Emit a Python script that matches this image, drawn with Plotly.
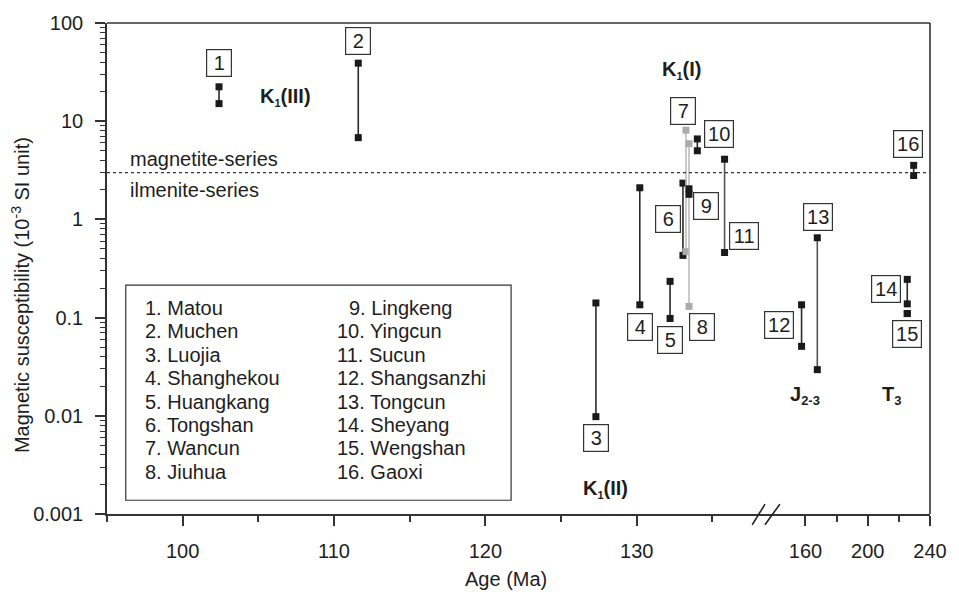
import numpy as np
import plotly.graph_objects as go

# ---------------- data ----------------
site_names = ["Matou", "Muchen", "Luojia", "Shanghekou", "Huangkang", "Tongshan", "Wancun", "Jiuhua",
              "Lingkeng", "Yingcun", "Sucun", "Shangsanzhi", "Tongcun", "Sheyang", "Wengshan", "Gaoxi"]
ages = [102.4, 111.6, 127.3, 130.2, 132.2, 133.05, 133.25, 133.45,
        133.45, 134.0, 135.8, 157.5, 167.6, 225.4, 225.4, 229.5]
sus_max = [22.4, 39.0, 0.141, 2.1, 0.234, 2.34, 8.1, 5.9,
           2.05, 6.6, 4.1, 0.135, 0.65, 0.245, 0.11, 3.55]
sus_min = [15.1, 6.8, 0.0098, 0.135, 0.098, 0.43, 0.47, 0.13,
           1.8, 5.0, 0.46, 0.051, 0.0295, 0.138, 0.11, 2.8]
series_boundary = 3.0  # magnetite / ilmenite series boundary

x1_ticks = [100, 110, 120, 130]
x1_minor = [95, 105, 115, 125, 135]
x2_ticks = [160, 200, 240]
x2_minor = [180, 220]
y_ticks = [100, 10, 1, 0.1, 0.01, 0.001]
y_ticktext = ["100", "10", "1", "0.1", "0.01", "0.001"]

# ---------------- styles / label placement ----------------
FONT = "Liberation Sans, Arial, Helvetica, sans-serif"
gray_sites = {7, 8}
light_line_sites = {11, 13}
label_y = [38.9, 66, 0.006, 0.081, 0.059, 1.0, 12.6, 0.081,
           1.38, 7.4, 0.676, 0.085, 1.05, 0.195, 0.068, 5.9]
label_dx = [0, 0, 0, 0, 0, -15, -3, 13, 17, 22, 19, -23, 1, -21, 0, -6]

BREAK = 0.7995  # domain split of the broken x axis
x1_range = [95, 138.47]
x2_range = [134.0, 240]

fig = go.Figure()

def axis_for(age):
    return "x2" if age > x1_range[1] else "x"

for i, (nm, a, hi, lo) in enumerate(zip(site_names, ages, sus_max, sus_min)):
    n = i + 1
    if n in gray_sites:
        mcol, lcol = "#ababab", "#bdbdbd"
    else:
        mcol = "#1a1a1a"
        lcol = "#555555" if n in light_line_sites else "#2a2a2a"
    fig.add_trace(go.Scatter(
        x=[a, a], y=[hi, lo], xaxis=axis_for(a), yaxis="y",
        mode="lines+markers", name=f"{n}. {nm}",
        line=dict(color=lcol, width=1.6),
        marker=dict(symbol="square", size=7, color=mcol),
        showlegend=False, hoverinfo="x+y+name"))

annotations = []
# boxed site numbers
for i, (a, ly, dx) in enumerate(zip(ages, label_y, label_dx)):
    n = i + 1
    annotations.append(dict(
        x=a, y=np.log10(ly), xref=axis_for(a), yref="y",
        text=str(n), showarrow=False, xshift=dx,
        font=dict(family=FONT, size=20, color="#1e1e1e"),
        bordercolor="#333", borderwidth=1.2, borderpad=1,
        bgcolor="rgba(255,255,255,0)",
        width=22 if n < 10 else 26, height=24))

def px2paper(px, py):
    return (px - 107) / 833.0, (514 - py) / 500.0

def txt(text, px, py, size=20, bold=False, xanchor="center", **kw):
    xp, yp = px2paper(px, py)
    if bold:
        text = f"<b>{text}</b>"
    d = dict(x=xp, y=yp, xref="paper", yref="paper", text=text, showarrow=False,
             xanchor=xanchor, yanchor="middle",
             font=dict(family=FONT, size=size, color="#1e1e1e"))
    d.update(kw)
    return d

def sub(s, size=12):
    return f"<sub><span style='font-size:{size}px'>{s}</span></sub>"

# period labels
annotations += [
    txt("K" + sub("1", 11) + "(III)", 288, 89, bold=True),
    txt("K" + sub("1", 11) + "(I)", 688, 62, bold=True),
    txt("K" + sub("1", 11) + "(II)", 612, 489, bold=True),
    txt("J" + sub("2-3", 13), 813, 393, bold=True),
    txt("T" + sub("3", 13), 901, 393, bold=True),
    txt("magnetite-series", 128, 152, xanchor="left"),
    txt("ilmenite-series", 128, 184, xanchor="left"),
]

# list of sites inside the box
for i, nm in enumerate(site_names):
    n = i + 1
    row = i % 8
    py = 304 + 23.86 * row
    if n <= 8:
        px = 143
    else:
        px = 350 if n == 9 else 338
    annotations.append(txt(f"{n}. {nm}", px, py, xanchor="left"))

# axis titles
annotations.append(txt("Age (Ma)", 511, 580))
annotations.append(txt("Magnetic susceptibility (10<sup>-3</sup> SI unit)", 19, 291, textangle=-90))

shapes = []
# frame (top and right)
shapes.append(dict(type="line", xref="paper", yref="paper", x0=0, x1=1, y0=1, y1=1,
                   line=dict(color="#333", width=1.6)))
shapes.append(dict(type="line", xref="paper", yref="paper", x0=1, x1=1, y0=0, y1=1,
                   line=dict(color="#333", width=1.6)))
# boundary line
yb = (np.log10(series_boundary) + 3) / 5.0
shapes.append(dict(type="line", xref="paper", yref="paper", x0=0, x1=1, y0=yb, y1=yb,
                   line=dict(color="#333", width=1.3, dash="dot")))
# site list box
x0, y0 = px2paper(126, 500)
x1, y1 = px2paper(516, 281)
shapes.append(dict(type="rect", xref="paper", yref="paper", x0=x0, x1=x1, y0=y0, y1=y1,
                   line=dict(color="#333", width=1.2), fillcolor="rgba(0,0,0,0)"))
# axis break marks
for (ax0, ay0, ax1, ay1) in [(760, 525, 773, 504), (773, 525, 788, 504)]:
    p0 = px2paper(ax0, ay0)
    p1 = px2paper(ax1, ay1)
    shapes.append(dict(type="line", xref="paper", yref="paper",
                       x0=p0[0], y0=p0[1], x1=p1[0], y1=p1[1],
                       line=dict(color="#222", width=1.6)))

axis_common = dict(showline=True, linecolor="#333", linewidth=1.6, showgrid=False, zeroline=False,
                   ticks="outside", ticklen=10, tickwidth=1.6, tickcolor="#333",
                   tickfont=dict(family=FONT, size=20, color="#1e1e1e"))

yminor = [m * 10.0 ** k for k in range(-3, 2) for m in range(2, 10)]

fig.update_layout(
    width=959, height=597,
    margin=dict(l=107, r=19, t=14, b=83),
    plot_bgcolor="white", paper_bgcolor="white",
    xaxis=dict(domain=[0, BREAK], range=x1_range, anchor="y", tickmode="array",
               tickvals=x1_ticks, ticklabelstandoff=8,
               minor=dict(tickmode="array", tickvals=x1_minor, ticks="outside", ticklen=6,
                          tickwidth=1.6, tickcolor="#333", showgrid=False),
               **axis_common),
    xaxis2=dict(domain=[BREAK, 1], range=x2_range, anchor="y", tickmode="array",
                tickvals=x2_ticks, ticklabelstandoff=8,
                minor=dict(tickmode="array", tickvals=x2_minor, ticks="outside", ticklen=6,
                           tickwidth=1.6, tickcolor="#333", showgrid=False),
                **axis_common),
    yaxis=dict(type="log", range=[-3, 2], anchor="x", tickmode="array",
               tickvals=y_ticks, ticktext=y_ticktext, ticklabelstandoff=8,
               minor=dict(tickmode="array", tickvals=yminor, ticks="outside", ticklen=5,
                          tickwidth=1.3, tickcolor="#333", showgrid=False),
               **axis_common),
    annotations=annotations,
    shapes=shapes,
    showlegend=False,
)

fig.write_html("out.html")
